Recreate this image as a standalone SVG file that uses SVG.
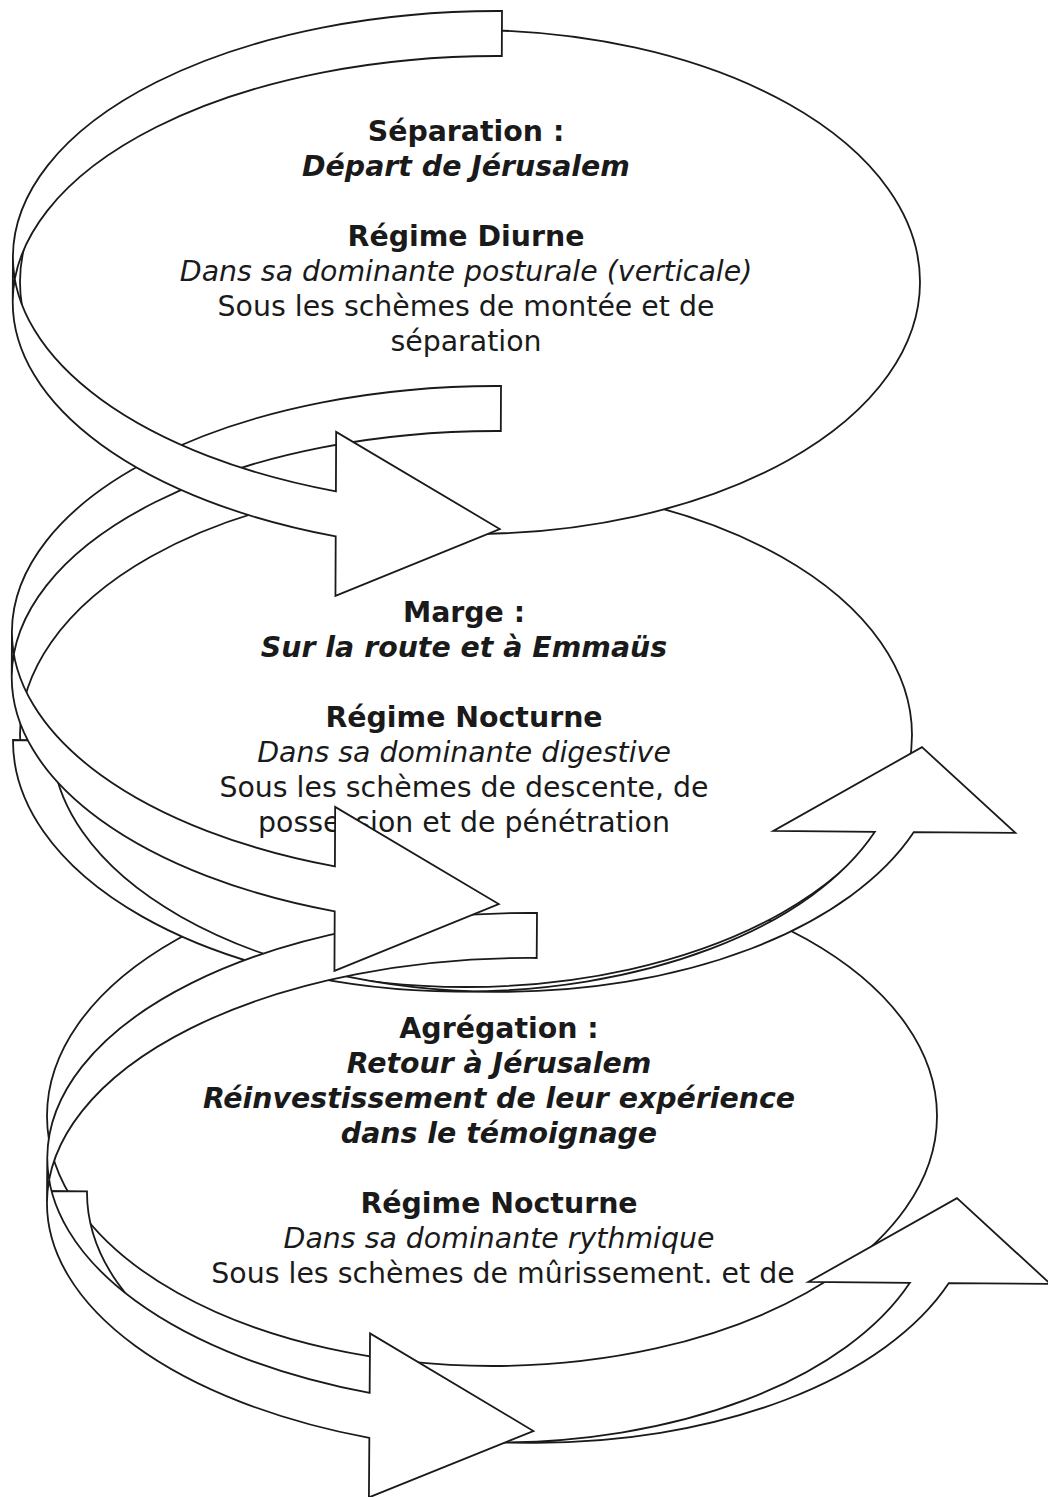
<svg xmlns="http://www.w3.org/2000/svg" xmlns:xlink="http://www.w3.org/1999/xlink" width="1048" height="1497" viewBox="0 0 1048 1497">
<style>
.sh{fill:#fff;stroke:none}
.ol{fill:none;stroke:#1a1a1a;stroke-width:1.8;stroke-linejoin:miter}
.el{fill:#fff;stroke:#1a1a1a;stroke-width:1.8}
text{font-family:"DejaVu Sans",Verdana,sans-serif;font-size:28.4px;fill:#1a1a1a;text-anchor:middle}
.b{font-weight:bold}
.bi{font-weight:bold;font-style:italic}
.i{font-style:italic}
</style>
<defs>
<g id="cr">
<path class="sh" d="M0,247.75 A488,247.75 0 0 1 488,0 L488,45 A488,247.75 0 0 0 0,292.75 Z"/>
<path class="sh" d="M0,247.75 A488,247.75 0 0 0 324,481.09 L324,421.59 L488,518 L324,585.59 L324,526.09 A488,247.75 0 0 1 0,292.75 Z"/>
<path class="ol" d="M0,247.75 A488,247.75 0 0 0 324,481.09 L324,421.59 L488,518 L324,585.59 L324,526.09 A488,247.75 0 0 1 0,292.75 L0,247.75 A488,247.75 0 0 1 488,0 L488,45 A488,247.75 0 0 0 0,292.75"/>
</g>
<g id="cu">
<path class="sh" d="M444.75,248 A444.75,248 0 0 1 0,0 L39,0 A444.75,248 0 0 0 483.75,248 Z"/>
<path class="sh" d="M444.75,248 A444.75,248 0 0 0 862.56,85 L761.06,85 L909,0 L1003.06,85 L901.56,85 A444.75,248 0 0 1 483.75,248 Z"/>
<path class="ol" d="M444.75,248 A444.75,248 0 0 0 862.56,85 L761.06,85 L909,0 L1003.06,85 L901.56,85 A444.75,248 0 0 1 483.75,248 L444.75,248 A444.75,248 0 0 1 0,0 L39,0 A444.75,248 0 0 0 483.75,248"/>
</g>
</defs>
<g id="node-agregation">
<ellipse class="el" cx="492" cy="1116" rx="445" ry="250"/>
<text x="499" y="1038" class="b">Agrégation :</text>
<text x="499" y="1073" class="bi">Retour à Jérusalem</text>
<text x="499" y="1108" class="bi">Réinvestissement de leur expérience</text>
<text x="499" y="1143" class="bi">dans le témoignage</text>
<text x="499" y="1213" class="b">Régime Nocturne</text>
<text x="499" y="1248" class="i">Dans sa dominante rythmique</text>
<text x="503" y="1283">Sous les schèmes de mûrissement. et de</text>
</g>
<g id="arrow-up-3"><use xlink:href="#cu" href="#cu" transform="rotate(0.45 48 1191) translate(48,1191)"/></g>
<g id="node-marge">
<ellipse class="el" cx="466" cy="735" rx="446" ry="252"/>
<text x="464" y="622" class="b">Marge :</text>
<text x="464" y="657" class="bi">Sur la route et à Emmaüs</text>
<text x="464" y="727" class="b">Régime Nocturne</text>
<text x="464" y="762" class="i">Dans sa dominante digestive</text>
<text x="464" y="797">Sous les schèmes de descente, de</text>
<text x="464" y="832">possession et de pénétration</text>
</g>
<g id="arrow-up-2"><use xlink:href="#cu" href="#cu" transform="rotate(0.45 13 740) translate(13,740)"/></g>
<g id="arrow-right-3"><use xlink:href="#cr" href="#cr" transform="rotate(0.4 537 913) translate(49,913)"/></g>
<g id="node-separation">
<ellipse class="el" cx="470" cy="282" rx="450" ry="252"/>
<text x="466" y="141" class="b">Séparation :</text>
<text x="466" y="176" class="bi">Départ de Jérusalem</text>
<text x="466" y="246" class="b">Régime Diurne</text>
<text x="466" y="281" class="i">Dans sa dominante posturale (verticale)</text>
<text x="466" y="316">Sous les schèmes de montée et de</text>
<text x="466" y="351">séparation</text>
</g>
<g id="arrow-right-2"><use xlink:href="#cr" href="#cr" transform="rotate(0.25 501 386) translate(13,386)"/></g>
<g id="arrow-right-1"><use xlink:href="#cr" href="#cr" transform="rotate(0.25 502 11) translate(14,11)"/></g>
</svg>
